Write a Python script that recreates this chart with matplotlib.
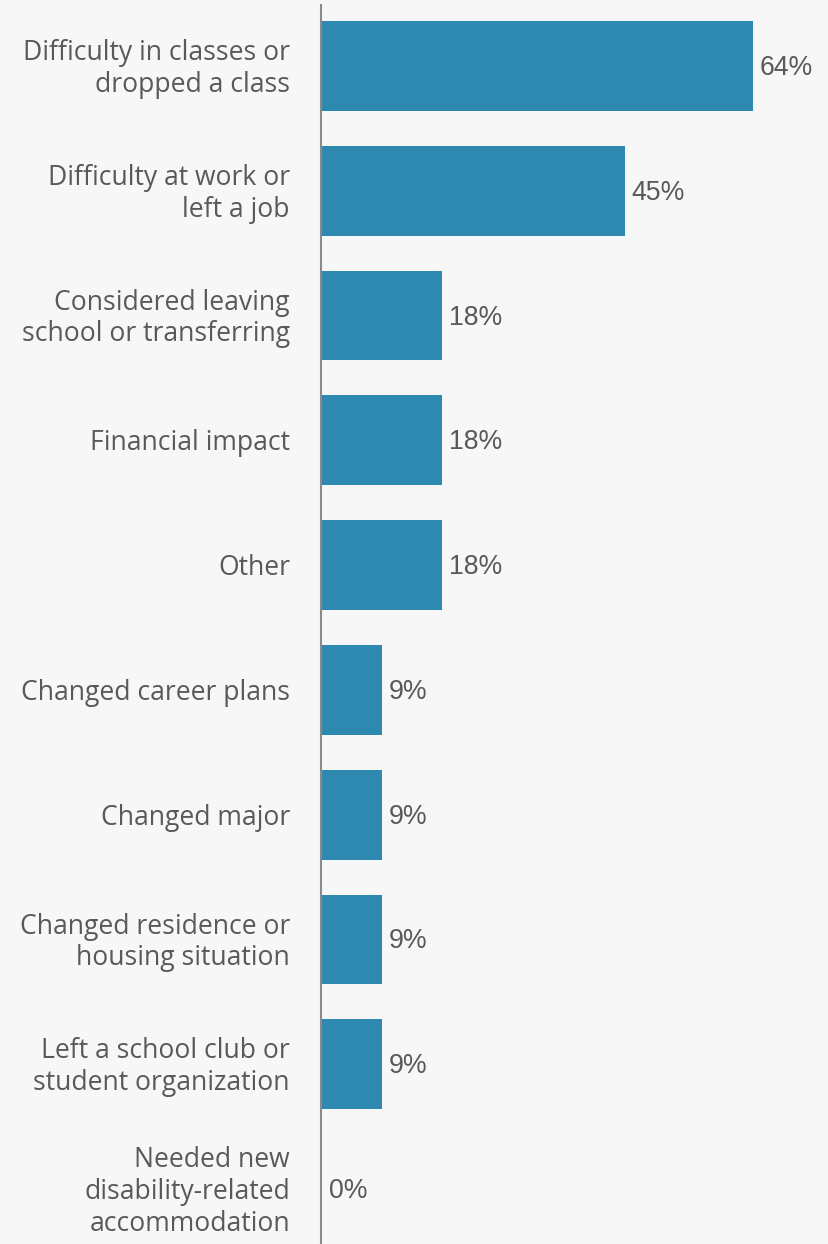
import matplotlib
matplotlib.use("Agg")
import matplotlib.pyplot as plt
from matplotlib.transforms import offset_copy

categories = [
    "Difficulty in classes or\ndropped a class",
    "Difficulty at work or\nleft a job",
    "Considered leaving\nschool or transferring",
    "Financial impact",
    "Other",
    "Changed career plans",
    "Changed major",
    "Changed residence or\nhousing situation",
    "Left a school club or\nstudent organization",
    "Needed new\ndisability-related\naccommodation",
]
values = [64, 45, 18, 18, 18, 9, 9, 9, 9, 0]
value_labels = ["64%", "45%", "18%", "18%", "18%", "9%", "9%", "9%", "9%", "0%"]

BG = "#f7f7f7"
BAR = "#2e89b1"
TEXT = "#595959"

W, H = 829, 1244
fig = plt.figure(figsize=(W / 100, H / 100), dpi=100, facecolor=BG)

ax_left = 321 / W
ax_top = 5
ax = fig.add_axes([ax_left, 0, 1 - ax_left, (H - ax_top) / H])
ax.set_facecolor(BG)

pitch = 124.8
ys = list(range(len(categories)))
ax.barh(ys, values, height=0.72, color=BAR, zorder=2)

px_per_unit = 432 / 64
ax.set_xlim(0, (W - 321) / px_per_unit)
ax.set_ylim(9 + 55 / pitch, -61 / pitch)

for s in ["top", "right", "bottom"]:
    ax.spines[s].set_visible(False)
ax.spines["left"].set_color("#8a8a8a")
ax.spines["left"].set_linewidth(1.5)
ax.spines["left"].set_zorder(3)

ax.set_xticks([])
ax.set_yticks([])

# category labels, right-aligned to the left of the axis
lab_tr = offset_copy(ax.get_yaxis_transform(), fig=fig, x=-31, y=-3, units="dots")
for y, c in zip(ys, categories):
    ax.text(0, y, c, transform=lab_tr, ha="right", va="center",
            fontsize=19.1, family="Open Sans", color=TEXT, linespacing=1.17)

# value labels just past the bar ends
for y, v, lab in zip(ys, values, value_labels):
    tr = offset_copy(ax.transData, fig=fig, x=7 if v > 0 else 8, y=-2, units="dots")
    ax.text(v, y, lab, transform=tr, ha="left", va="center",
            fontsize=19.2, family="Liberation Sans", color=TEXT)

fig.savefig("out.png", dpi=100, facecolor=BG)
